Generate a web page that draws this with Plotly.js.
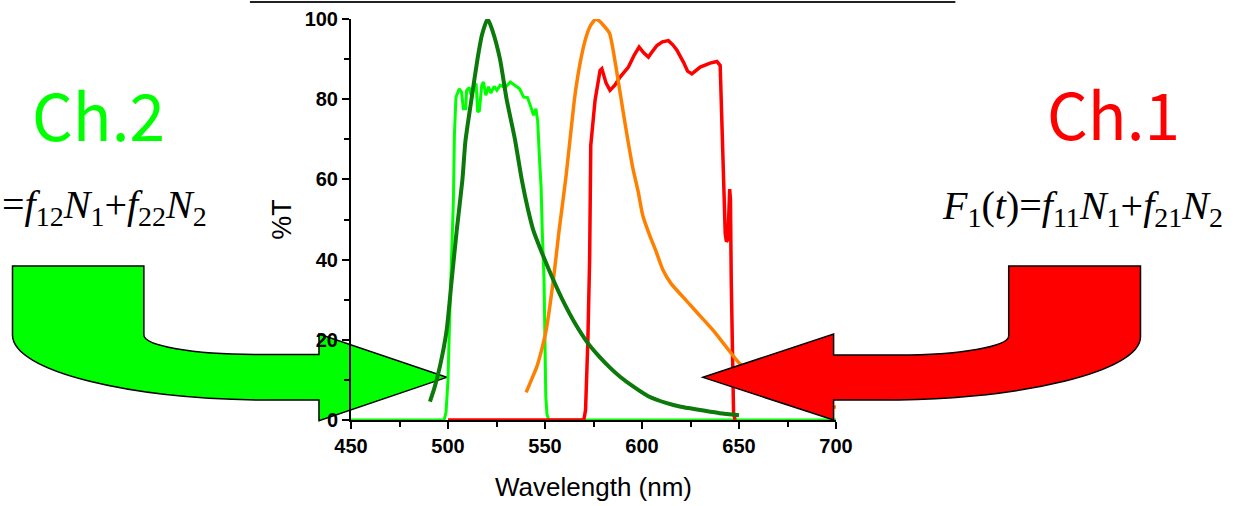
<!DOCTYPE html>
<html>
<head>
<meta charset="utf-8">
<script src="https://cdn.plot.ly/plotly-3.0.1.min.js"></script>
<style>html,body{margin:0;padding:0;background:#fff;}#chart{width:1246px;height:506px;}</style>
</head>
<body>
<div id="chart"></div>
<script>
// ---- Data (wavelength in nm, transmission / intensity in %) ----
const ch2FilterX = [450, 498, 499, 500, 501, 502, 502.8, 503.3, 504.1, 505.8, 507.0, 507.9, 509.1, 509.6, 511.0, 512.2, 513.1, 514.5, 515.3, 516.2, 517.4, 518.3, 519.5, 520.9, 522.1, 523.8, 525.2, 526.9, 529.5, 532.1, 534.7, 536.9, 539.0, 541.0, 542.4, 544.1, 545.3, 546.2, 547.2, 548.0, 548.6, 549.5, 550.4, 551.0, 551.7, 553, 700];
const ch2FilterY = [0, 0, 2, 10, 28, 45, 55, 71, 80.5, 82.6, 81.8, 77.6, 77.6, 82.2, 82.9, 80.5, 82.6, 83.9, 76.8, 77.2, 83.5, 84.3, 81.0, 83.1, 81.5, 83.2, 82.2, 83.5, 82.9, 84.3, 83.5, 82.6, 80.5, 80.4, 78.5, 76.0, 77.6, 74.7, 64.8, 58, 47, 35, 6, 1.5, 0.3, 0, 0];

const ch2DyeX = [490.7, 493, 495.8, 499.3, 501.9, 504.5, 507.4, 509, 512.1, 515.2, 517.5, 520.4, 523, 526.8, 530.2, 534.5, 538.0, 541, 544.0, 549, 554.3, 560, 565, 571.6, 578, 583.6, 588.7, 595.6, 603, 612.8, 620, 630, 640, 650];
const ch2DyeY = [4.6, 8, 13.3, 22.4, 34.9, 47.3, 59.8, 69.6, 80, 90, 96, 100, 97, 90, 80, 70, 60, 53, 47.3, 41, 34.9, 29, 24.5, 19.5, 15.8, 13, 10.8, 8.3, 6, 4.2, 3.3, 2.5, 1.7, 1.2];

const ch1DyeX = [540.3, 543, 545.8, 548, 550.6, 554.3, 557.2, 560.9, 565.1, 567, 569.4, 571.5, 573.5, 576.3, 578, 580, 583.2, 586.6, 590.9, 595.2, 598, 600.4, 604, 607.3, 610.8, 615, 621.1, 628, 636.6, 643, 650.3, 660, 670, 680, 690, 700];
const ch1DyeY = [6.9, 10, 13.3, 17, 22.4, 34.9, 47, 61, 79.7, 86, 92.1, 96, 98.4, 100, 99.5, 98.5, 96.5, 88, 75, 63, 57, 51, 46, 42, 37.4, 34, 30.7, 27, 22.4, 18.5, 14.1, 10.5, 7.5, 5.5, 4.2, 3.2];

const ch1FilterX = [500, 570, 570.9, 571.5, 572.1, 573.0, 573.6, 575.8, 578.4, 579.3, 581.5, 583.5, 586, 588.7, 593, 596, 598.5, 601, 603.3, 605.5, 607.7, 610.5, 613.6, 616, 618, 621.4, 623.5, 625.7, 628, 630, 635.1, 638.6, 640.3, 641.2, 642, 642.9, 643.5, 644.3, 645.2, 645.6, 646, 646.6, 647.2, 648];
const ch1FilterY = [0, 0, 2.5, 10, 19.9, 40, 68.5, 79.7, 87.2, 87.6, 84, 82.2, 83.5, 85.5, 88, 91, 93, 91.5, 90.5, 92, 93.4, 94.3, 94.6, 93.5, 92.2, 89.2, 87, 86.3, 87.3, 88, 89, 89.4, 88.4, 71.4, 59, 46.5, 44.5, 45, 57.6, 55, 35, 15, 1.7, 0];

const xTicks = [450, 500, 550, 600, 650, 700];
const yTicks = [0, 20, 40, 60, 80, 100];

// ---- Layout geometry (pixels of the plot area) ----
const L = 351, R = 835.7, T = 18.5, B = 420, W = 1246, H = 506;
const px = x => (x - L) / (R - L);
const py = y => (B - y) / (B - T);
function path(cmds) {
  return cmds.map(c => c[0] + ' ' + c.slice(1).map(p => px(p[0]).toFixed(5) + ',' + py(p[1]).toFixed(5)).join(' ')).join(' ') + ' Z';
}
const greenArrow = path([
  ['M', [12.7, 265.7]], ['L', [144, 265.7]], ['L', [144, 335]],
  ['C', [144, 345.7], [193, 354.3], [254, 354.3]],
  ['L', [319, 354.3]], ['L', [319, 334]], ['L', [446.7, 377.3]], ['L', [319, 420.7]], ['L', [319, 400]], ['L', [272.7, 400]],
  ['C', [129.2, 400], [12.7, 370.9], [12.7, 335]]
]);
const redArrow = path([
  ['M', [1140, 265.7]], ['L', [1008.3, 265.7]], ['L', [1008.3, 336]],
  ['C', [1008.3, 346.5], [959, 355], [898.3, 355]],
  ['L', [833.3, 355]], ['L', [833.3, 334]], ['L', [702.7, 377.3]], ['L', [833.3, 420]], ['L', [833.3, 400]], ['L', [879.3, 400]],
  ['C', [1023.5, 400], [1140, 371], [1140, 336.7]]
]);

const traces = [
  {x: ch2FilterX, y: ch2FilterY, type: 'scatter', mode: 'lines', line: {color: '#00ff00', width: 3}, hoverinfo: 'skip'},
  {x: ch1FilterX, y: ch1FilterY, type: 'scatter', mode: 'lines', line: {color: '#ff0000', width: 3.5}, hoverinfo: 'skip'},
  {x: ch1DyeX, y: ch1DyeY, type: 'scatter', mode: 'lines', line: {color: '#ff8000', width: 3.5, shape: 'spline', smoothing: 0.6}, hoverinfo: 'skip'},
  {x: ch2DyeX, y: ch2DyeY, type: 'scatter', mode: 'lines', line: {color: '#0b7a0b', width: 4, shape: 'spline', smoothing: 0.6}, hoverinfo: 'skip'}
];

const tickFont = {family: 'Liberation Sans, Arial, sans-serif', size: 20, color: '#000', weight: 'bold'};
const eqFont = {family: 'Liberation Serif, Times New Roman, serif', size: 40, color: '#000'};
const chFont = {family: 'Noto Sans CJK JP, sans-serif', size: 64};

const layout = {
  width: W, height: H,
  margin: {l: L, r: W - R, t: T, b: H - B, pad: 0},
  paper_bgcolor: '#fff', plot_bgcolor: 'rgba(0,0,0,0)',
  showlegend: false,
  xaxis: {
    range: [450, 700], tickvals: xTicks, ticktext: xTicks.map(String),
    showline: true, linecolor: '#000', linewidth: 2, ticks: 'outside', ticklen: 7, tickwidth: 2, tickcolor: '#000',
    minor: {ticks: 'outside', dtick: 25, tick0: 450, ticklen: 5, tickwidth: 2, tickcolor: '#000', showgrid: false},
    showgrid: false, zeroline: false, layer: 'below traces', tickfont: tickFont,
    title: {text: 'Wavelength (nm)', font: {family: 'Liberation Sans, Arial, sans-serif', size: 26, color: '#000'}, standoff: 22}
  },
  yaxis: {
    range: [0, 100], tickvals: yTicks, ticktext: yTicks.map(String),
    showline: true, linecolor: '#000', linewidth: 2, ticks: 'outside', ticklen: 7, tickwidth: 2, tickcolor: '#000',
    minor: {ticks: 'outside', dtick: 10, tick0: 0, ticklen: 5, tickwidth: 2, tickcolor: '#000', showgrid: false},
    showgrid: false, zeroline: false, layer: 'below traces', tickfont: tickFont,
    title: {text: '%T', font: {family: 'Liberation Sans, Arial, sans-serif', size: 27, color: '#000'}, standoff: 5}
  },
  shapes: [
    {type: 'line', xref: 'paper', yref: 'paper', x0: px(250), x1: px(955), y0: py(1.5), y1: py(1.5), line: {color: '#222', width: 2}},
    {type: 'path', xref: 'paper', yref: 'paper', path: greenArrow, fillcolor: '#00ff00', line: {color: '#000', width: 1.5}, layer: 'below'},
    {type: 'path', xref: 'paper', yref: 'paper', path: redArrow, fillcolor: '#ff0000', line: {color: '#000', width: 1.5}, layer: 'above'}
  ],
  annotations: [
    {xref: 'paper', yref: 'paper', x: px(99), y: py(113), xanchor: 'center', yanchor: 'middle', showarrow: false,
     text: 'Ch.2', font: Object.assign({color: '#00ff00'}, chFont)},
    {xref: 'paper', yref: 'paper', x: px(1113), y: py(112), xanchor: 'center', yanchor: 'middle', showarrow: false,
     text: 'Ch.1', font: Object.assign({color: '#ff0000'}, chFont)},
    {xref: 'paper', yref: 'paper', x: px(0), y: py(207), xanchor: 'left', yanchor: 'middle', showarrow: false,
     text: '=<i>f</i><sub>12</sub><i>N</i><sub>1</sub>+<i>f</i><sub>22</sub><i>N</i><sub>2</sub>', font: eqFont},
    {xref: 'paper', yref: 'paper', x: px(940), y: py(208), xanchor: 'left', yanchor: 'middle', showarrow: false,
     text: '<i>F</i><sub>1</sub>(<i>t</i>)=<i>f</i><sub>11</sub><i>N</i><sub>1</sub>+<i>f</i><sub>21</sub><i>N</i><sub>2</sub>', font: eqFont}
  ]
};

Plotly.newPlot('chart', traces, layout, {displayModeBar: false, staticPlot: true});
</script>
</body>
</html>
